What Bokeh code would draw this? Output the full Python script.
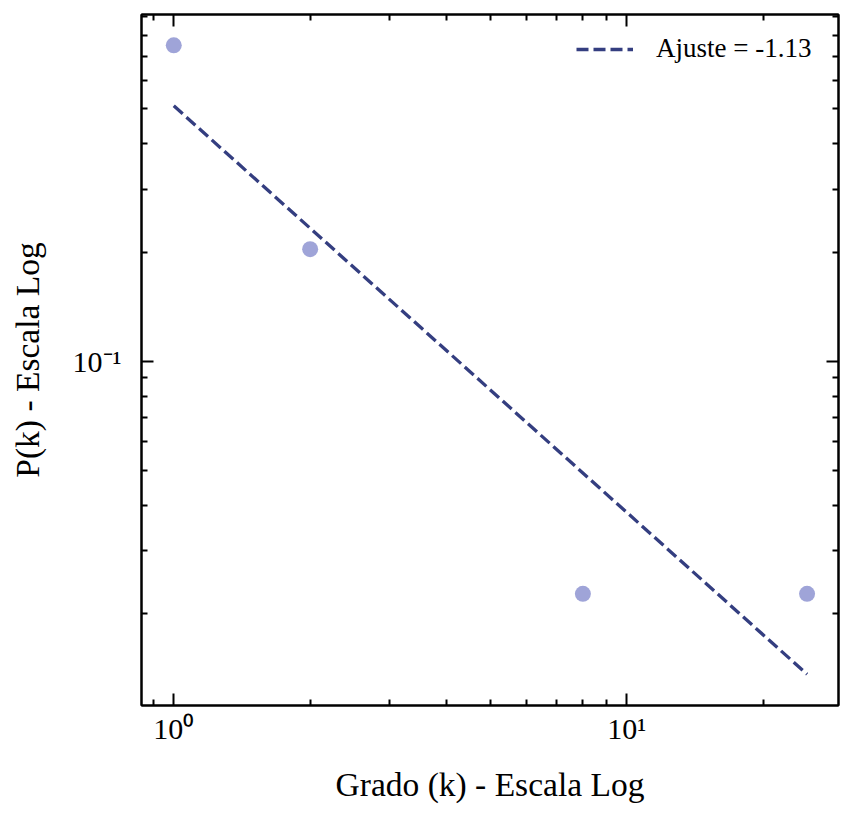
from bokeh.plotting import figure
from bokeh.models import LogAxis, FixedTicker, CustomJSTickFormatter, Range1d
from bokeh.embed import file_html
from bokeh.resources import INLINE

# Data
degree = [1, 2, 8, 25]
prob = [0.75, 0.2045, 0.0227, 0.0227]
fit_degree = [1, 25]
fit_prob = [0.51, 0.0136]
fit_label = "Ajuste = -1.13"
x_title = "Grado (k) - Escala Log"
y_title = "P(k) - Escala Log"

x_major = [1, 10]
x_minor = [0.9, 2, 3, 4, 5, 6, 7, 8, 9, 20]
y_major = [0.1]
y_minor = [0.02, 0.03, 0.04, 0.05, 0.06, 0.07, 0.08, 0.09,
           0.2, 0.3, 0.4, 0.5, 0.6, 0.7, 0.8, 0.9]

FONT = "'Liberation Serif', 'Times New Roman', serif"
POINT_COLOR = "#9fa4d8"
LINE_COLOR = "#343e80"

p = figure(width=850, height=805, x_axis_type="log", y_axis_type="log",
           x_range=Range1d(0.8487, 29.33), y_range=Range1d(0.01114, 0.913),
           output_backend="svg", toolbar_location=None,
           min_border_left=141, min_border_top=14, min_border_right=12,
           min_border_bottom=98)
p.background_fill_color = "white"
p.border_fill_color = "white"
p.grid.visible = False
p.outline_line_color = "black"
p.outline_line_width = 2

p.scatter(degree, prob, size=16, fill_color=POINT_COLOR, line_color=None)
p.line(fit_degree, fit_prob, line_dash="12 5", line_width=3.3,
       line_color=LINE_COLOR, legend_label=fit_label)

sup_code = """
const sup = {"0":"\u2070","1":"\u00b9","2":"\u00b2","3":"\u00b3","4":"\u2074",
             "5":"\u2075","6":"\u2076","7":"\u2077","8":"\u2078","9":"\u2079","-":"\u207b"};
const e = Math.round(Math.log10(tick));
return "10" + String(e).split("").map(c => sup[c]).join("");
"""
fmt = CustomJSTickFormatter(code=sup_code)


def style(ax, major, minor):
    ax.ticker = FixedTicker(ticks=major, minor_ticks=minor)
    ax.major_tick_in = 12
    ax.major_tick_out = 0
    ax.minor_tick_in = 6
    ax.minor_tick_out = 0
    ax.major_tick_line_width = 2
    ax.minor_tick_line_width = 2
    ax.axis_line_width = 2
    ax.axis_line_color = "black"
    ax.major_tick_line_color = "black"
    ax.minor_tick_line_color = "black"


xa = p.xaxis[0]
ya = p.yaxis[0]
style(xa, x_major, x_minor)
style(ya, y_major, y_minor)
for ax in (xa, ya):
    ax.formatter = fmt
    ax.major_label_text_font = FONT
    ax.major_label_text_font_size = "30px"
    ax.major_label_text_color = "black"
    ax.axis_label_text_font = FONT
    ax.axis_label_text_font_size = "33.5px"
    ax.axis_label_text_font_style = "normal"
    ax.axis_label_text_color = "black"
xa.axis_label = x_title
ya.axis_label = y_title
xa.major_label_standoff = 6
xa.axis_label_standoff = 18
ya.major_label_standoff = 20
ya.axis_label_standoff = 24

blank = CustomJSTickFormatter(code='return "";')
top = LogAxis()
right = LogAxis()
style(top, x_major, x_minor)
style(right, y_major, y_minor)
for ax in (top, right):
    ax.formatter = blank
    ax.major_label_text_font_size = "1px"
    ax.major_label_standoff = 0
p.add_layout(top, "above")
p.add_layout(right, "right")

lg = p.legend[0]
lg.location = "top_right"
lg.border_line_color = None
lg.background_fill_alpha = 0
lg.label_text_font = FONT
lg.label_text_font_size = "27px"
lg.label_text_color = "black"
lg.glyph_width = 57
lg.label_standoff = 23
lg.label_width = 163
lg.margin = 19
lg.padding = 10

open("out.html", "w").write(file_html(p, INLINE))
